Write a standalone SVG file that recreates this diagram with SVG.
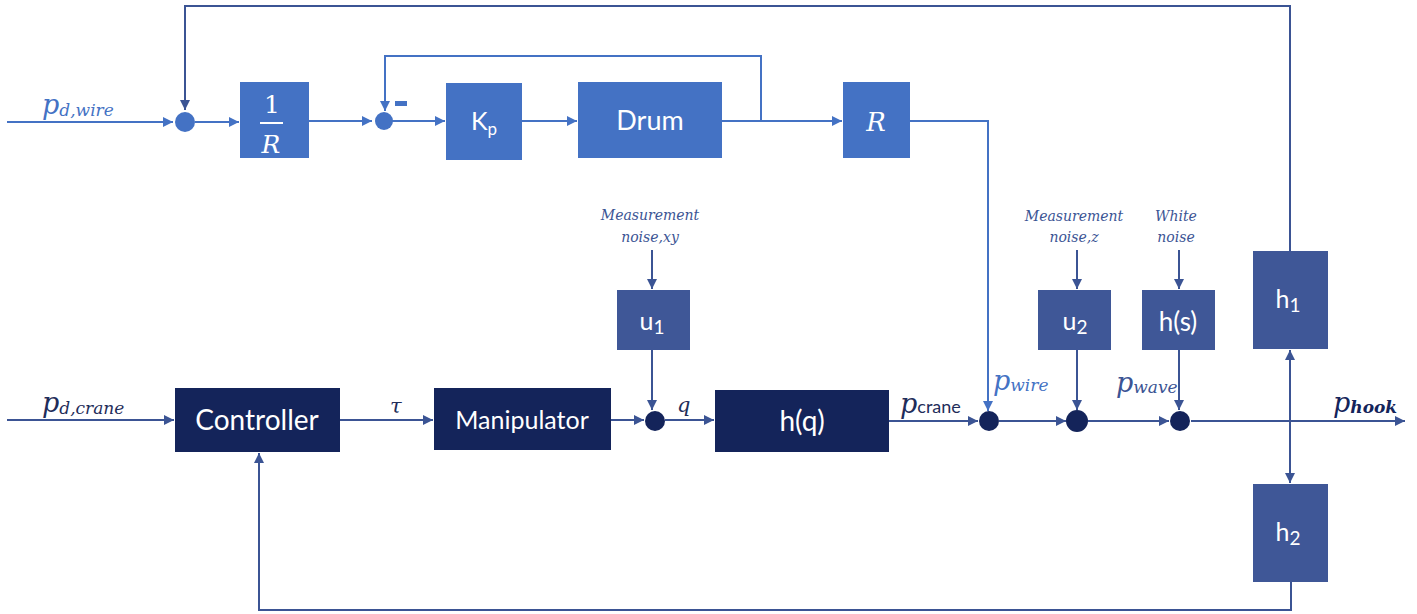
<svg xmlns="http://www.w3.org/2000/svg" width="1417" height="614" viewBox="0 0 1417 614">
<defs>
<marker id="ab" viewBox="0 0 10 10" refX="10" refY="5" markerWidth="10" markerHeight="10" markerUnits="userSpaceOnUse" orient="auto"><path d="M0,0 L10,5 L0,10 z" fill="#4472C4"/></marker>
<marker id="an" viewBox="0 0 10 10" refX="10" refY="5" markerWidth="10" markerHeight="10" markerUnits="userSpaceOnUse" orient="auto"><path d="M0,0 L10,5 L0,10 z" fill="#3B5494"/></marker>
</defs>
<style>
.lb{fill:none;stroke:#4472C4;stroke-width:2}
.ln{fill:none;stroke:#3B5494;stroke-width:2}
.bb{fill:#4472C4}
.bd{fill:#14245A}
.bm{fill:#3F5797}
.t{font-family:Lato,"Open Sans",sans-serif;fill:#fff;text-anchor:middle}
.m{font-family:"DejaVu Serif","Liberation Serif",serif;font-style:italic}
.up{font-family:"DejaVu Serif","Liberation Serif",serif;font-style:normal}
.n{font-family:"DejaVu Serif","Liberation Serif",serif;font-style:italic;font-size:14px;fill:#3B5494;text-anchor:middle}
</style>
<g id="connectors">
<polyline class="lb" points="7,122 173,122" marker-end="url(#ab)"/>
<polyline class="ln" points="1290,251 1290,6 185,6 185,110" marker-end="url(#an)"/>
<polyline class="lb" points="195,122 239,122" marker-end="url(#ab)"/>
<polyline class="lb" points="309,121 372,121" marker-end="url(#ab)"/>
<polyline class="lb" points="392,121 445,121" marker-end="url(#ab)"/>
<polyline class="lb" points="522,121 577,121" marker-end="url(#ab)"/>
<polyline class="lb" points="722,121 842,121" marker-end="url(#ab)"/>
<polyline class="lb" points="761,121 761,56 385,56 385,111" marker-end="url(#ab)"/>
<polyline class="lb" points="910,121 988,121 988,411" marker-end="url(#ab)"/>
<polyline class="ln" points="7,420 174,420" marker-end="url(#an)"/>
<polyline class="ln" points="340,420 433,420" marker-end="url(#an)"/>
<polyline class="ln" points="611,420 644,420" marker-end="url(#an)"/>
<polyline class="ln" points="665,420 714,420" marker-end="url(#an)"/>
<polyline class="ln" points="889,421 978,421" marker-end="url(#an)"/>
<polyline class="ln" points="999,421 1066,421" marker-end="url(#an)"/>
<polyline class="ln" points="1088,421 1169,421" marker-end="url(#an)"/>
<polyline class="ln" points="1191,421 1405,421" marker-end="url(#an)"/>
<polyline class="ln" points="652,250 652,289" marker-end="url(#an)"/>
<polyline class="ln" points="652,350 652,410" marker-end="url(#an)"/>
<polyline class="ln" points="1077,250 1077,289" marker-end="url(#an)"/>
<polyline class="ln" points="1077,350 1077,410" marker-end="url(#an)"/>
<polyline class="ln" points="1179,250 1179,289" marker-end="url(#an)"/>
<polyline class="ln" points="1179,350 1179,410" marker-end="url(#an)"/>
<polyline class="ln" points="1290,421 1290,350" marker-end="url(#an)"/>
<polyline class="ln" points="1290,421 1290,483" marker-end="url(#an)"/>
<polyline class="ln" points="1291,582 1291,610 259,610 259,453" marker-end="url(#an)"/>
</g>
<g id="sum1"><circle cx="185" cy="122" r="10" fill="#4472C4"/></g>
<g id="sum2"><circle cx="384" cy="121" r="9" fill="#4472C4"/><rect x="395" y="101" width="12" height="5" fill="#4472C4"/></g>
<g id="invR"><rect class="bb" x="240" y="82" width="69" height="76"/>
<text class="up" x="272" y="113" font-size="25" fill="#fff" text-anchor="middle">1</text>
<rect x="260" y="122" width="23" height="2" fill="#fff"/>
<text class="m" x="271" y="153" font-size="25" fill="#fff" text-anchor="middle">R</text></g>
<g id="Kp"><rect class="bb" x="446" y="83" width="76" height="77"/><text class="t" x="484" y="130" font-size="25">K<tspan font-size="17" dy="5">p</tspan></text></g>
<g id="drum"><rect class="bb" x="578" y="82" width="144" height="76"/><text class="t" x="650" y="130" font-size="27">Drum</text></g>
<g id="R"><rect class="bb" x="843" y="82" width="67" height="76"/><text class="m" x="876" y="131" font-size="26" fill="#fff" text-anchor="middle">R</text></g>
<g id="controller"><rect class="bd" x="175" y="388" width="165" height="64"/><text class="t" x="257" y="430" font-size="28">Controller</text></g>
<g id="manipulator"><rect class="bd" x="434" y="388" width="177" height="62"/><text class="t" x="522" y="429" font-size="25">Manipulator</text></g>
<g id="sumq"><circle cx="655" cy="421" r="10" fill="#14245A"/></g>
<g id="hq"><rect class="bd" x="715" y="390" width="174" height="62"/><text class="t" x="802" y="431" font-size="28">h(q)</text></g>
<g id="sumwire"><circle cx="989" cy="421" r="10" fill="#14245A"/></g>
<g id="sumz"><circle cx="1077" cy="421" r="11" fill="#14245A"/></g>
<g id="sumwave"><circle cx="1180" cy="421" r="10" fill="#14245A"/></g>
<g id="u1"><rect class="bm" x="617" y="290" width="73" height="60"/><text class="t" x="652" y="330" font-size="25">u<tspan font-size="19" dy="4">1</tspan></text></g>
<g id="u2"><rect class="bm" x="1038" y="290" width="73" height="60"/><text class="t" x="1075" y="330" font-size="25">u<tspan font-size="19" dy="4">2</tspan></text></g>
<g id="hs"><rect class="bm" x="1142" y="290" width="73" height="60"/><text class="t" x="1178" y="331" font-size="26">h(s)</text></g>
<g id="h1"><rect class="bm" x="1253" y="251" width="75" height="98"/><text class="t" x="1288" y="308" font-size="25">h<tspan font-size="19" dy="4">1</tspan></text></g>
<g id="h2"><rect class="bm" x="1253" y="484" width="75" height="98"/><text class="t" x="1288" y="541" font-size="25">h<tspan font-size="19" dy="4">2</tspan></text></g>
<g id="labels">
<text class="m" x="42" y="114" font-size="27" fill="#4472C4">p<tspan font-size="17" dy="2">d,wire</tspan></text>
<text class="m" x="42" y="412" font-size="27" fill="#1F2D5A">p<tspan font-size="17" dy="2">d,crane</tspan></text>
<text class="m" x="390" y="413" font-size="21" fill="#1F2D5A">τ</text>
<text class="m" x="677" y="412" font-size="21" fill="#1F2D5A">q</text>
<text class="m" x="900" y="413" font-size="27" fill="#1F2D5A">p<tspan font-family="Lato,sans-serif" font-style="normal" font-size="18">crane</tspan></text>
<text class="m" x="993" y="390" font-size="27" fill="#4472C4">p<tspan font-size="17" dy="1">wire</tspan></text>
<text class="m" x="1116" y="392" font-size="27" fill="#3B5494">p<tspan font-size="17" dy="1">wave</tspan></text>
<text class="m" x="1333" y="412" font-size="27" fill="#14245A">p<tspan font-size="17" dy="1" font-weight="bold">hook</tspan></text>
<text class="n" x="650" y="220">Measurement</text>
<text class="n" x="650" y="242">noise,xy</text>
<text class="n" x="1074" y="221">Measurement</text>
<text class="n" x="1074" y="242">noise,z</text>
<text class="n" x="1176" y="221">White</text>
<text class="n" x="1176" y="242">noise</text>
</g>
</svg>
